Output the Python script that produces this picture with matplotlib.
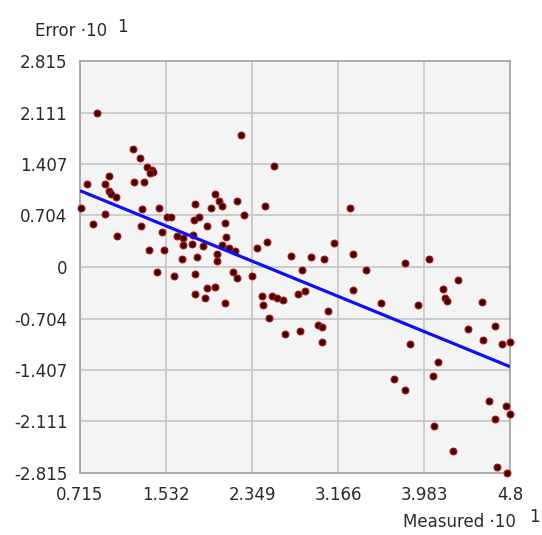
import matplotlib
matplotlib.use("Agg")
import matplotlib.pyplot as plt
import numpy as np

# Data (displayed units, x10^1)
measured = [0.729, 0.779, 0.834, 0.881, 0.948, 0.988, 0.991, 1.014, 1.059, 0.954,
            1.071, 1.216, 1.285, 1.356, 1.396, 1.413, 1.383, 1.230, 1.320, 1.301,
            1.290, 1.466, 1.537, 1.575, 1.494, 1.375, 1.513, 1.447, 1.641, 1.689,
            1.789, 1.698, 1.776, 1.879, 1.681, 1.827, 1.611, 1.808, 1.919, 2.002,
            1.812, 1.900, 1.808, 1.964, 2.002, 2.037, 2.066, 1.801, 1.848, 1.919,
            2.093, 2.105, 2.064, 2.135, 2.188, 2.015, 2.021, 2.173, 2.207, 2.352,
            2.093, 2.204, 2.276, 2.247, 2.560, 2.473, 2.489, 2.401, 2.441, 2.456,
            2.542, 2.584, 2.648, 2.784, 2.857, 2.509, 2.720, 2.911, 3.031, 2.821,
            3.130, 3.068, 2.976, 3.014, 2.664, 2.807, 3.017, 3.278, 3.313, 3.313,
            3.432, 3.800, 4.029, 4.309, 4.165, 4.183, 4.206, 4.531, 3.575, 3.923,
            4.398, 4.659, 4.546, 4.726, 4.800, 3.852, 4.113, 4.069, 3.698, 3.803,
            4.603, 4.765, 4.797, 4.658, 4.076, 4.254, 4.677, 4.767]
error = [0.813, 1.134, 0.581, 2.108, 1.134, 1.244, 1.032, 0.998, 0.961, 0.728,
         0.430, 1.612, 1.487, 1.367, 1.326, 1.305, 1.280, 1.164, 1.164, 0.786,
         0.558, 0.813, 0.679, 0.690, 0.482, 0.232, 0.232, -0.068, 0.430, 0.396,
         0.437, 0.301, 0.314, 0.287, 0.109, 0.130, -0.123, -0.098, -0.291, -0.269,
         -0.372, -0.417, 0.861, 0.813, 1.004, 0.902, 0.834, 0.642, 0.683, 0.558,
         0.604, 0.410, 0.297, 0.256, 0.219, 0.175, 0.085, -0.075, -0.148, -0.119,
         -0.492, 0.899, 0.704, 1.808, 1.380, 0.829, 0.338, 0.260, -0.392, -0.519,
         -0.394, -0.428, -0.451, -0.373, -0.328, -0.697, 0.150, 0.130, 0.107, -0.041,
         0.331, -0.601, -0.793, -0.820, -0.920, -0.875, -1.025, 0.802, 0.178, -0.321,
         -0.041, 0.051, 0.107, -0.174, -0.297, -0.420, -0.471, -0.474, -0.496, -0.523,
         -0.850, -0.802, -1.004, -1.048, -1.025, -1.052, -1.298, -1.483, -1.530, -1.681,
         -1.831, -1.904, -2.005, -2.077, -2.178, -2.510, -2.729, -2.815]

fit_x = [0.715, 4.8]
fit_y = [1.043, -1.362]

x_ticks = [0.715, 1.532, 2.349, 3.166, 3.983, 4.8]
x_tick_labels = ["0.715", "1.532", "2.349", "3.166", "3.983", "4.8"]
y_ticks = [2.815, 2.111, 1.407, 0.704, 0.0, -0.704, -1.407, -2.111, -2.815]
y_tick_labels = ["2.815", "2.111", "1.407", "0.704", "0", "-0.704", "-1.407", "-2.111", "-2.815"]

plt.rcParams['font.family'] = ['DejaVu Sans']

W, H = 542, 535
fig = plt.figure(figsize=(W / 100, H / 100), dpi=100)
fig.patch.set_facecolor("white")
ax = fig.add_axes([80 / W, 1 - 473 / H, 430 / W, 412 / H])
ax.set_facecolor("#f4f4f4")

ax.set_xlim(0.715, 4.8)
ax.set_ylim(-2.815, 2.815)
ax.set_xticks(x_ticks)
ax.set_xticklabels(x_tick_labels)
ax.set_yticks(y_ticks)
ax.set_yticklabels(y_tick_labels)
ax.grid(True, color="#c8c8c8", linewidth=1.3)
ax.set_axisbelow(True)
for s in ax.spines.values():
    s.set_color("#a8a8a8")
    s.set_linewidth(1.3)
ax.tick_params(axis="both", length=0, labelsize=12, colors="#2a2a2a")
ax.tick_params(axis="y", pad=9)
ax.tick_params(axis="x", pad=9)

ax.scatter(measured, error, s=24, marker="o", facecolor="#3c0606",
           edgecolor="#b01010", linewidth=0.8, zorder=3, clip_on=False)
ax.plot(fit_x, fit_y, color="#1010f0", linewidth=2.3, zorder=4, solid_capstyle="butt")

tc = "#2a2a2a"
fig.text(35 / W, 1 - 31 / H, "Error ·10", fontsize=12, color=tc, ha="left", va="center")
fig.text(117 / W, 1 - 27 / H, "1", fontsize=12, color=tc, ha="left", va="center")
fig.text(403 / W, 1 - 522 / H, "Measured ·10", fontsize=12, color=tc, ha="left", va="center")
fig.text(529 / W, 1 - 517 / H, "1", fontsize=12, color=tc, ha="left", va="center")

fig.savefig("out.png", dpi=100)
